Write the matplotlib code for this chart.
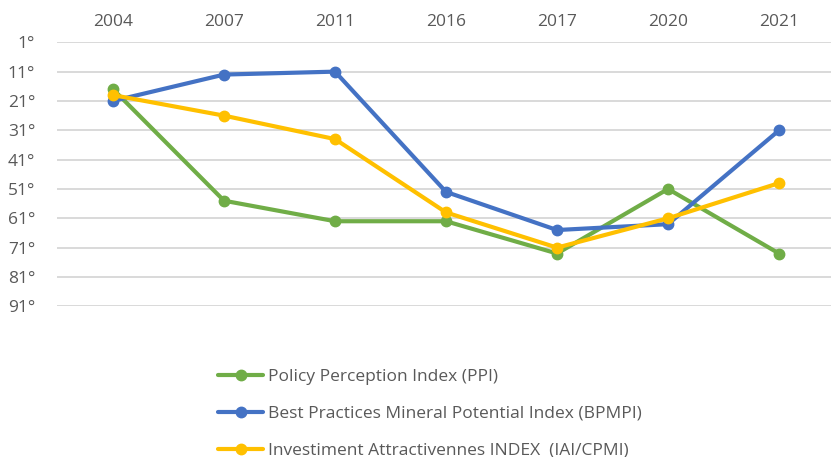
import matplotlib
matplotlib.use("Agg")
import matplotlib.pyplot as plt

years = ["2004", "2007", "2011", "2016", "2017", "2020", "2021"]
ppi = [17, 55, 62, 62, 73, 51, 73]
bpmpi = [21, 12, 11, 52, 65, 63, 31]
iai = [19, 26, 34, 59, 71, 61, 49]
series_names = ["Policy Perception Index (PPI)",
                "Best Practices Mineral Potential Index (BPMPI)",
                "Investiment Attractivennes INDEX  (IAI/CPMI)"]
y_ticks = [1, 11, 21, 31, 41, 51, 61, 71, 81, 91]

plt.rcParams['font.family'] = ['Open Sans', 'DejaVu Sans']
W, H = 831, 457
fig = plt.figure(figsize=(W / 100, H / 100), dpi=100)
left, right = 57.5 / W, 1.0
top_px, bot_px = 42.3, 306.3
ax = fig.add_axes([left, 1 - bot_px / H, right - left, (bot_px - top_px) / H])

x = list(range(len(years)))
colors = ["#70AD47", "#4472C4", "#FFC000"]
for vals, c, name in zip([ppi, bpmpi, iai], colors, series_names):
    ax.plot(x, vals, color=c, lw=3.0, marker='o', ms=7.5, label=name,
            solid_capstyle='round', zorder=3)

ax.set_xlim(-0.5, 6.468)
ax.set_ylim(91, 1)
ax.set_yticks(y_ticks)
ax.set_yticklabels([f"{v}°" for v in y_ticks])
ax.set_xticks(x)
ax.set_xticklabels(years)
ax.xaxis.tick_top()
ax.tick_params(axis='both', length=0, labelsize=12.5, labelcolor="#595959")
ax.tick_params(axis='y', pad=16)
ax.tick_params(axis='x', pad=9)
ax.grid(axis='y', color="#D9D9D9", lw=1.4, zorder=0)
for s in ax.spines.values():
    s.set_visible(False)

leg = fig.legend(loc='upper left', bbox_to_anchor=(218 / W, 1 - 368.5 / H),
                 frameon=False, fontsize=12.5, labelcolor="#595959",
                 handlelength=2.6, handletextpad=0.29, labelspacing=1.2,
                 borderaxespad=0, borderpad=0)
fig.savefig("out.png", dpi=100)
